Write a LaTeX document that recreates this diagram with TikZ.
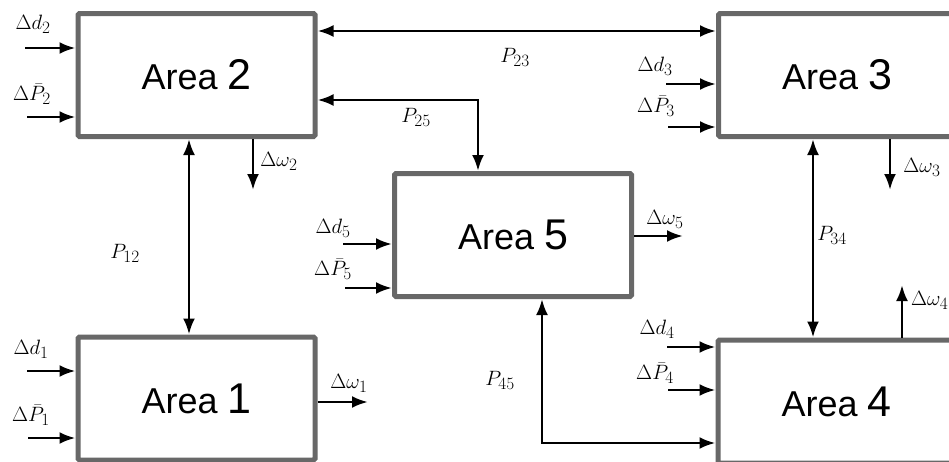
\documentclass[tikz,border=0pt]{standalone}
\usepackage{fontspec}
\newfontfamily\areafont{Liberation Sans}
\usetikzlibrary{arrows.meta}
\DeclareMathSizes{22}{22}{16}{11}
\definecolor{boxgray}{RGB}{104,104,104}
\tikzset{
  area/.style={draw=boxgray, line width=5pt, rounded corners=1.5pt, fill=white,
    minimum width=237pt, minimum height=123pt, inner sep=0pt, font=\areafont},
  arr/.style={line width=2.8pt, -{Latex[length=16pt,width=12pt]}},
  darr/.style={line width=2.8pt, {Latex[length=16pt,width=12pt]}-{Latex[length=16pt,width=12pt]}},
  lbl/.style={inner sep=0pt, font=\fontsize{22}{24}\selectfont}
}
\newcommand{\areatxt}[1]{{\fontsize{36}{40}\selectfont Area }{\fontsize{43}{48}\selectfont #1}}
\begin{document}
\begin{tikzpicture}[x=1pt,y=-1pt]
\useasboundingbox (0,0) rectangle (949,461);
\clip (0,0) rectangle (949,461);
\fill[white] (0,0) rectangle (949,461);
% boxes
\node[area] (a2) at (196.5,75) {\areatxt{2}};
\node[area] (a3) at (837,75) {\areatxt{3}};
\node[area] (a5) at (513,235) {\areatxt{5}};
\node[area] (a1) at (196.5,398.5) {\areatxt{1}};
\node[area] (a4) at (836.5,401.5) {\areatxt{4}};
% inputs
\coordinate (d2) at (25,48);   \draw[arr] (d2) -- (d2 -| a2.west);
\coordinate (p2) at (27,117);  \draw[arr] (p2) -- (p2 -| a2.west);
\coordinate (d1) at (27,371);  \draw[arr] (d1) -- (d1 -| a1.west);
\coordinate (p1) at (28,438);  \draw[arr] (p1) -- (p1 -| a1.west);
\coordinate (d5) at (343,244); \draw[arr] (d5) -- (d5 -| a5.west);
\coordinate (p5) at (345,288); \draw[arr] (p5) -- (p5 -| a5.west);
\coordinate (d3) at (666,84);  \draw[arr] (d3) -- (d3 -| a3.west);
\coordinate (p3) at (668,127); \draw[arr] (p3) -- (p3 -| a3.west);
\coordinate (d4) at (667,347); \draw[arr] (d4) -- (d4 -| a4.west);
\coordinate (p4) at (668,390); \draw[arr] (p4) -- (p4 -| a4.west);
% outputs
\coordinate (w2) at (253,190); \draw[arr] (w2 |- a2.south) -- (w2);
\coordinate (w1) at (368,402); \draw[arr] (w1 -| a1.east) -- (w1);
\coordinate (w5) at (683,236); \draw[arr] (w5 -| a5.east) -- (w5);
\coordinate (w3) at (890,190); \draw[arr] (w3 |- a3.south) -- (w3);
\coordinate (w4) at (902,285); \draw[arr] (w4 |- a4.north) -- (w4);
% tie lines
\coordinate (c23) at (515,31);  \draw[darr] (c23 -| a2.east) -- (c23 -| a3.west);
\coordinate (c25) at (478,100); \draw[darr] (c25 -| a2.east) -- (c25) -- (c25 |- a5.north);
\coordinate (c12) at (189,240); \draw[darr] (c12 |- a2.south) -- (c12 |- a1.north);
\coordinate (c34) at (813,240); \draw[darr] (c34 |- a3.south) -- (c34 |- a4.north);
\coordinate (c45) at (542,443); \draw[darr] (c45 |- a5.south) -- (c45) -- (c45 -| a4.west);
% labels
\node[lbl] (ld2) at (33,24) {$\Delta d_2$};
\node[lbl] (lp2) at (32,94) {$\Delta \bar{P}_2$};
\node[lbl] (ld1) at (31,349) {$\Delta d_1$};
\node[lbl] (lp1) at (31,415) {$\Delta \bar{P}_1$};
\node[lbl] (lw2) at (279,161) {$\Delta\omega_2$};
\node[lbl] (lw1) at (349,383) {$\Delta\omega_1$};
\node[lbl] (l12) at (125,253) {$P_{12}$};
\node[lbl] (l23) at (515,57) {$P_{23}$};
\node[lbl] (l25) at (416,117) {$P_{25}$};
\node[lbl] (ld5) at (333,228) {$\Delta d_5$};
\node[lbl] (lp5) at (333,269) {$\Delta \bar{P}_5$};
\node[lbl] (lw5) at (665,219) {$\Delta\omega_5$};
\node[lbl] (ld3) at (655,66) {$\Delta d_3$};
\node[lbl] (lp3) at (656,106) {$\Delta \bar{P}_3$};
\node[lbl] (lw3) at (922,167) {$\Delta\omega_3$};
\node[lbl] (l34) at (832,235) {$P_{34}$};
\node[lbl] (ld4) at (657,329) {$\Delta d_4$};
\node[lbl] (lp4) at (655,373) {$\Delta \bar{P}_4$};
\node[lbl] (l45) at (500,380) {$P_{45}$};
\node[lbl, anchor=west] (lw4) at (911,300) {$\Delta\omega_4$};
\end{tikzpicture}
\end{document}
